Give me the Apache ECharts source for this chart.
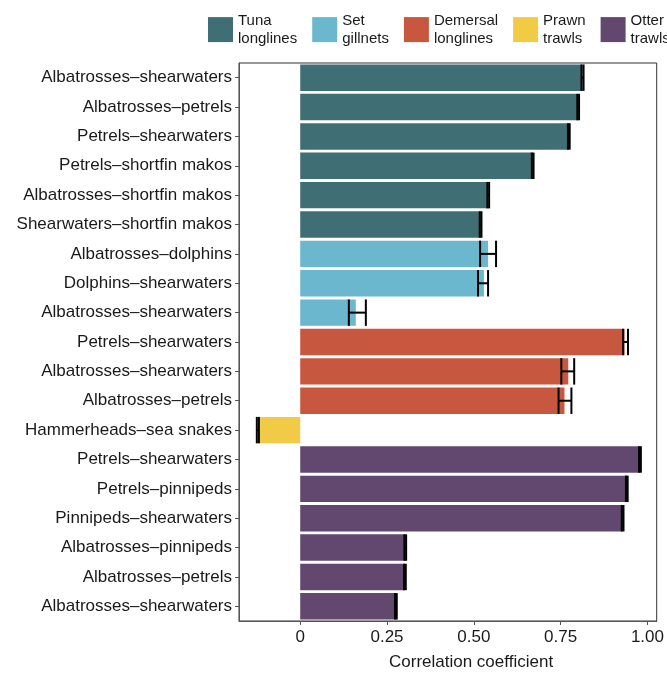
<!DOCTYPE html>
<html>
<head>
<meta charset="utf-8">
<script src="https://cdn.jsdelivr.net/npm/echarts@6/dist/echarts.min.js"></script>
<style>html,body{margin:0;padding:0;background:#fff;}#c{width:667px;height:674px;}</style>
</head>
<body>
<div id="c"></div>
<script>
const categories = [
  'Albatrosses–shearwaters','Albatrosses–petrels','Petrels–shearwaters','Petrels–shortfin makos',
  'Albatrosses–shortfin makos','Shearwaters–shortfin makos',
  'Albatrosses–dolphins','Dolphins–shearwaters','Albatrosses–shearwaters',
  'Petrels–shearwaters','Albatrosses–shearwaters','Albatrosses–petrels',
  'Hammerheads–sea snakes',
  'Petrels–shearwaters','Petrels–pinnipeds','Pinnipeds–shearwaters','Albatrosses–pinnipeds',
  'Albatrosses–petrels','Albatrosses–shearwaters'
];
const fisheries = ['Tuna longlines','Set gillnets','Demersal longlines','Prawn trawls','Otter trawls'];
const fisheryColors = ['#3F6F75','#6AB7CE','#C8573F','#F2CB46','#62486E'];
const fisheryOfRow = [0,0,0,0,0,0,1,1,1,2,2,2,3,4,4,4,4,4,4];
const values = [0.813,0.800,0.774,0.670,0.541,0.520,0.541,0.529,0.160,0.934,0.772,0.761,-0.122,0.979,0.941,0.929,0.303,0.302,0.276];
const errLow = [0.810,0.798,0.771,0.667,0.539,0.517,0.518,0.512,0.140,0.930,0.752,0.744,-0.125,0.976,0.938,0.926,0.300,0.299,0.273];
const errHigh = [0.816,0.803,0.776,0.672,0.544,0.522,0.564,0.541,0.189,0.944,0.789,0.781,-0.119,0.981,0.943,0.931,0.305,0.304,0.278];
const xTicks = [0, 0.25, 0.5, 0.75, 1.0];

const FONT = "'Liberation Sans', Arial, Helvetica, sans-serif";
const chart = echarts.init(document.getElementById('c'), null, {renderer: 'canvas'});

const barSeries = fisheries.map((name, f) => ({
  name: name,
  type: 'bar',
  barGap: '-100%',
  barCategoryGap: '10%',
  itemStyle: {color: fisheryColors[f]},
  data: values.map((v, i) => fisheryOfRow[i] === f ? v : '-'),
  z: 2
}));

const errSeries = {
  type: 'custom',
  z: 5,
  encode: {y: 0, x: [1, 2]},
  data: values.map((v, i) => [i, errLow[i], errHigh[i]]),
  renderItem: function (params, api) {
    const y = api.value(0), lo = api.value(1), hi = api.value(2);
    const p1 = api.coord([lo, y]), p2 = api.coord([hi, y]);
    const h = api.size([0, 1])[1] * 0.9;
    const style = {stroke: '#000', lineWidth: 2};
    return {type: 'group', children: [
      {type: 'line', shape: {x1: p1[0], y1: p1[1], x2: p2[0], y2: p2[1]}, style: style},
      {type: 'line', shape: {x1: p1[0], y1: p1[1] - h / 2, x2: p1[0], y2: p1[1] + h / 2}, style: style},
      {type: 'line', shape: {x1: p2[0], y1: p2[1] - h / 2, x2: p2[0], y2: p2[1] + h / 2}, style: style}
    ]};
  }
};

chart.setOption({
  animation: false,
  textStyle: {fontFamily: FONT},
  legend: {
    data: fisheries,
    left: 208, top: 12, padding: 0, width: 480,
    itemWidth: 25, itemHeight: 25, itemGap: 15,
    icon: 'rect',
    selectedMode: false,
    formatter: n => n.replace(' ', '\n'),
    textStyle: {fontFamily: FONT, fontSize: 15, color: '#1a1a1a', lineHeight: 17.6, padding: [0, 0, 0, 0]}
  },
  grid: {left: 239, right: 7, top: 63, bottom: 53, show: true, borderColor: '#333', borderWidth: 1, containLabel: false},
  xAxis: {
    type: 'value',
    min: -0.1763, max: 1.0266,
    splitLine: {show: false},
    axisLine: {show: true, onZero: false, lineStyle: {color: '#555', width: 1}},
    axisTick: {show: true, length: 4, lineStyle: {color: '#555'}, customValues: xTicks},
    axisLabel: {customValues: xTicks, fontFamily: FONT, fontSize: 17, color: '#1a1a1a', margin: 8,
      formatter: v => v === 0 ? '0' : v.toFixed(2)}
  },
  yAxis: {
    type: 'category',
    inverse: true,
    data: categories.map((c, i) => String(i)),
    axisLine: {show: true, onZero: false, lineStyle: {color: '#555', width: 1}},
    axisTick: {show: true, alignWithLabel: true, length: 4, lineStyle: {color: '#555'}},
    axisLabel: {fontFamily: FONT, fontSize: 17, color: '#1a1a1a', margin: 7,
      formatter: (v, i) => categories[Number(v)]},
    splitLine: {show: false}
  },
  graphic: [{
    type: 'text', left: 389, top: 654,
    style: {text: 'Correlation coefficient', font: '17px ' + FONT, fill: '#1a1a1a'}
  }],
  series: barSeries.concat([errSeries])
});
</script>
</body>
</html>
